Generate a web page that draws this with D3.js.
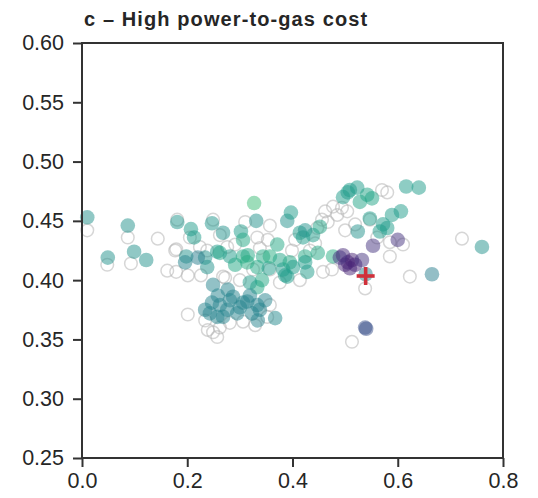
<!DOCTYPE html>
<html lang="en">
<head>
<meta charset="UTF-8">
<script src="https://cdnjs.cloudflare.com/ajax/libs/d3/7.8.5/d3.min.js"></script>
<style>
  body { margin: 0; background: #fff; }
  text { font-family: "Liberation Sans", Arial, sans-serif; fill: #262626; }
</style>
</head>
<body>
<div id="chart"></div>
<script>
// filled runs: [x, y, colour value on the viridis scale]
var filledX = [0.010, 0.087, 0.049, 0.099, 0.122,
    0.181, 0.207, 0.213, 0.247, 0.268, 0.302, 0.306, 0.327, 0.331, 0.390, 0.397, 0.414,
    0.198, 0.196, 0.234, 0.238, 0.257, 0.262, 0.281, 0.291, 0.306, 0.315, 0.314, 0.333, 0.344, 0.355,
    0.371, 0.357, 0.376, 0.382, 0.386, 0.395, 0.401, 0.342, 0.333, 0.319, 0.390, 0.424, 0.428, 0.420,
    0.424, 0.439, 0.452, 0.448, 0.477, 0.424, 0.220,
    0.247, 0.277, 0.287, 0.262, 0.243, 0.257, 0.276, 0.300, 0.314, 0.333, 0.338, 0.323, 0.334, 0.367,
    0.295, 0.268, 0.306, 0.281, 0.258, 0.234, 0.319, 0.348, 0.249,
    0.505, 0.496, 0.523, 0.542, 0.551, 0.528, 0.509, 0.616, 0.640, 0.606, 0.589, 0.547, 0.572, 0.580,
    0.524, 0.566,
    0.553, 0.600, 0.505, 0.496, 0.513, 0.500, 0.519, 0.509, 0.532, 0.490,
    0.538, 0.540, 0.665, 0.760, 0.539];
var filledY = [0.453, 0.446, 0.419, 0.424, 0.417,
    0.449, 0.443, 0.436, 0.448, 0.440, 0.441, 0.434, 0.465, 0.450, 0.450, 0.457, 0.440,
    0.420, 0.415, 0.419, 0.411, 0.424, 0.423, 0.420, 0.413, 0.420, 0.421, 0.415, 0.411, 0.420, 0.410,
    0.430, 0.420, 0.417, 0.409, 0.404, 0.415, 0.411, 0.400, 0.394, 0.398, 0.403, 0.420, 0.407, 0.436,
    0.442, 0.438, 0.445, 0.423, 0.420, 0.415, 0.419,
    0.381, 0.392, 0.386, 0.379, 0.372, 0.369, 0.375, 0.377, 0.382, 0.379, 0.375, 0.372, 0.366, 0.368,
    0.372, 0.369, 0.381, 0.383, 0.387, 0.375, 0.387, 0.383, 0.396,
    0.474, 0.470, 0.478, 0.472, 0.469, 0.466, 0.476, 0.479, 0.478, 0.458, 0.455, 0.452, 0.447, 0.444,
    0.441, 0.441,
    0.429, 0.434, 0.415, 0.421, 0.417, 0.413, 0.413, 0.410, 0.417, 0.419,
    0.360, 0.359, 0.405, 0.428, 0.405];
var filledC = [0.50, 0.50, 0.50, 0.50, 0.50,
    0.52, 0.55, 0.55, 0.52, 0.50, 0.55, 0.60, 0.68, 0.50, 0.50, 0.55, 0.55,
    0.50, 0.45, 0.50, 0.50, 0.55, 0.58, 0.55, 0.60, 0.60, 0.60, 0.62, 0.60, 0.60, 0.55,
    0.60, 0.62, 0.58, 0.55, 0.55, 0.60, 0.55, 0.60, 0.60, 0.55, 0.55, 0.60, 0.55, 0.55,
    0.50, 0.55, 0.58, 0.60, 0.62, 0.55, 0.42,
    0.45, 0.45, 0.45, 0.45, 0.45, 0.45, 0.45, 0.45, 0.45, 0.45, 0.45, 0.45, 0.45, 0.47,
    0.45, 0.45, 0.45, 0.45, 0.45, 0.45, 0.45, 0.45, 0.45,
    0.55, 0.55, 0.55, 0.58, 0.58, 0.58, 0.55, 0.55, 0.55, 0.55, 0.55, 0.55, 0.55, 0.55,
    0.50, 0.55,
    0.15, 0.15, 0.10, 0.12, 0.10, 0.10, 0.10, 0.10, 0.15, 0.15,
    0.25, 0.25, 0.42, 0.50, 0.45];

// open (grey) runs
var openX = [0.010, 0.087, 0.144, 0.048, 0.093, 0.162, 0.179, 0.179, 0.201, 0.226, 0.268, 0.181,
    0.249, 0.224, 0.238, 0.276, 0.291, 0.333, 0.338, 0.353, 0.399, 0.405, 0.272, 0.300, 0.325,
    0.177, 0.205, 0.262, 0.310, 0.357, 0.376, 0.357,
    0.201, 0.239, 0.249, 0.262, 0.281, 0.306, 0.357, 0.352, 0.257, 0.234, 0.329,
    0.462, 0.477, 0.494, 0.504, 0.485, 0.467, 0.456, 0.447, 0.580, 0.570, 0.547, 0.561, 0.585,
    0.610, 0.585, 0.443, 0.458, 0.475, 0.623, 0.722, 0.538, 0.513, 0.433, 0.414, 0.500, 0.519];
var openY = [0.442, 0.436, 0.435, 0.413, 0.414, 0.408, 0.426, 0.407, 0.404, 0.404, 0.403, 0.451,
    0.451, 0.428, 0.425, 0.428, 0.430, 0.436, 0.427, 0.434, 0.425, 0.434, 0.402, 0.400, 0.409,
    0.425, 0.436, 0.438, 0.449, 0.446, 0.398, 0.409,
    0.371, 0.358, 0.356, 0.360, 0.364, 0.365, 0.379, 0.369, 0.352, 0.366, 0.362,
    0.458, 0.462, 0.461, 0.458, 0.455, 0.449, 0.451, 0.444, 0.474, 0.476, 0.451, 0.436, 0.432,
    0.430, 0.420, 0.431, 0.407, 0.409, 0.403, 0.435, 0.393, 0.348, 0.425, 0.400, 0.442, 0.447];

var baseX = [0.539];
var baseY = [0.4035];

var xTicks = [0.0, 0.2, 0.4, 0.6, 0.8];
var yTicks = [0.25, 0.30, 0.35, 0.40, 0.45, 0.50, 0.55, 0.60];
var title = "c \u2013 High power-to-gas cost";

var width = 538, height = 498;
var margin = {top: 43, right: 35, bottom: 40, left: 82};
var w = width - margin.left - margin.right;
var h = height - margin.top - margin.bottom;

var svg = d3.select("#chart").append("svg")
    .attr("width", width)
    .attr("height", height);

var g = svg.append("g")
    .attr("transform", "translate(" + margin.left + "," + margin.top + ")");

var x = d3.scaleLinear().domain([0, 0.8]).range([0, w]);
var y = d3.scaleLinear().domain([0.25, 0.60]).range([h, 0]);

// grey open circles first
g.selectAll("circle.open")
    .data(d3.range(openX.length))
    .enter().append("circle")
    .attr("class", "open")
    .attr("cx", function (i) { return x(openX[i]); })
    .attr("cy", function (i) { return y(openY[i]); })
    .attr("r", 6.3)
    .attr("fill", "none")
    .attr("stroke", "#b4b4b4")
    .attr("stroke-opacity", 0.55)
    .attr("stroke-width", 1.5);

g.selectAll("circle.filled")
    .data(d3.range(filledX.length))
    .enter().append("circle")
    .attr("class", "filled")
    .attr("cx", function (i) { return x(filledX[i]); })
    .attr("cy", function (i) { return y(filledY[i]); })
    .attr("r", 7.3)
    .attr("fill", function (i) { return d3.interpolateViridis(filledC[i]); })
    .attr("fill-opacity", 0.5);

// red plus marker
g.selectAll("g.base")
    .data(d3.range(baseX.length))
    .enter().append("g")
    .attr("class", "base")
    .attr("transform", function (i) { return "translate(" + x(baseX[i]) + "," + y(baseY[i]) + ")"; })
    .each(function () {
        var s = d3.select(this);
        s.append("line").attr("x1", -9).attr("x2", 9).attr("y1", 0).attr("y2", 0);
        s.append("line").attr("x1", 0).attr("x2", 0).attr("y1", -9).attr("y2", 9);
        s.selectAll("line").attr("stroke", "#d0303a").attr("stroke-width", 3.6);
    });

// frame
g.append("rect")
    .attr("width", w)
    .attr("height", h)
    .attr("fill", "none")
    .attr("stroke", "#333")
    .attr("stroke-width", 2);

var xAxis = g.append("g")
    .attr("transform", "translate(0," + h + ")")
    .call(d3.axisBottom(x).tickValues(xTicks).tickFormat(d3.format(".1f")).tickSize(9).tickPadding(6));
var yAxis = g.append("g")
    .call(d3.axisLeft(y).tickValues(yTicks).tickFormat(d3.format(".2f")).tickSize(9).tickPadding(9));

[xAxis, yAxis].forEach(function (a) {
    a.select(".domain").remove();
    a.selectAll("line").attr("stroke", "#333").attr("stroke-width", 2);
    a.selectAll("text").attr("font-size", 21.5).attr("fill", "#262626")
        .style("font-family", "Liberation Sans, Arial, sans-serif");
});

svg.append("text")
    .attr("x", margin.left + 2)
    .attr("y", 26)
    .attr("font-size", 20)
    .attr("font-weight", "bold")
    .attr("letter-spacing", 1.1)
    .text(title);
</script>
</body>
</html>
